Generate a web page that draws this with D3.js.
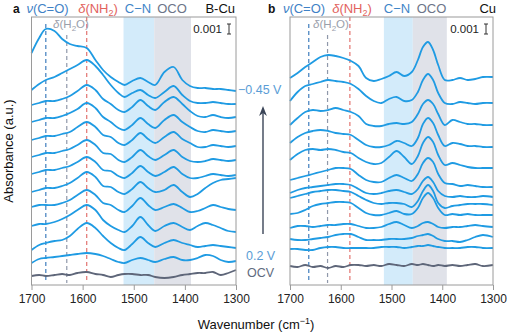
<!DOCTYPE html>
<html>
<head>
<meta charset="utf-8">
<script src="https://cdn.jsdelivr.net/npm/d3@7"></script>
<style>
  body { margin: 0; background: #fff; }
  svg { font-family: "Liberation Sans", Arial, sans-serif; }
</style>
</head>
<body>
<svg id="chart" width="510" height="335"></svg>
<script>
// wavenumber grids (cm-1) the spectra are sampled on
const waveBCu = [1700,1685,1672,1655,1640,1625,1610,1592,1575,1560,1545,1530,1518,1503,1487,1472,1458,1440,1422,1405,1390,1375,1360,1345,1330,1315,1300];
const waveCu = [1700,1685,1670,1655,1640,1625,1610,1595,1580,1565,1550,1535,1520,1505,1490,1475,1460,1448,1438,1428,1418,1408,1395,1380,1365,1350,1335,1320,1300];

// stacked spectra in 1e-4 a.u., -0.45 V (top) ... 0.2 V (bottom)
const spectraBCu = [
  [232,247,256,254,246,241,239,237,225,215,208,203,200,204,207,203,200,213,218,205,199,197,197,196,196,195,194],
  [195,201,205,208,212,216,220,225,219,210,200,192,188,192,195,190,187,193,199,190,184,182,182,183,182,181,181],
  [180,182,184,184,186,189,194,200,195,186,181,175,173,178,185,179,175,183,188,181,174,169,168,170,168,167,168],
  [163,165,167,167,169,172,176,182,177,168,163,157,155,160,167,161,157,165,170,163,158,154,153,155,154,153,154],
  [145,147,149,149,151,153,158,163,158,150,148,142,140,145,152,146,142,148,153,146,142,138,138,140,139,138,139],
  [128,130,132,132,134,136,140,145,140,132,131,125,123,128,135,129,125,130,135,128,124,123,124,126,125,124,125],
  [111,113,115,115,117,119,123,128,123,115,114,109,107,112,119,113,109,113,118,111,107,107,109,111,110,109,110],
  [93,95,97,97,99,102,107,113,108,99,98,93,91,96,103,97,93,95,100,93,88,91,97,102,105,106,107],
  [78,80,80,80,82,85,90,95,90,82,80,75,73,79,87,80,75,78,81,77,73,74,77,80,78,76,75],
  [59,61,61,63,66,70,75,80,75,65,59,55,53,59,68,60,54,59,62,58,55,59,62,60,57,54,53],
  [35,40,42,44,45,49,56,62,57,49,42,37,35,41,48,42,38,42,45,42,40,38,39,40,39,38,37],
  [22,26,27,28,29,30,31,32,31,29,26,23,22,25,27,25,23,26,28,25,25,27,30,29,25,23,24]
];
const ocvBCu = [9,10,9,10,11,10,12,13,11,10,8,10,11,11,10,10,8,7,8,10,11,12,12,13,10,12,15];

const spectraCu = [
  [207,212,218,223,228,230,229,227,224,219,207,204,206,209,213,209,213,225,238,243,235,220,205,205,207,205,206,208,208],
  [184,193,199,201,203,205,204,203,201,196,189,184,182,186,188,184,185,193,205,211,205,192,182,181,183,182,181,182,182],
  [160,167,173,175,174,175,177,175,173,169,161,159,159,161,162,161,163,171,181,185,181,171,160,165,163,161,161,160,160],
  [142,148,152,154,155,154,152,151,150,145,140,138,138,140,144,142,139,147,161,167,162,150,139,142,141,139,139,138,138],
  [125,131,135,136,135,136,135,133,132,127,123,121,122,128,134,128,121,129,142,148,143,130,120,122,120,118,117,117,117],
  [105,107,109,111,113,115,117,117,116,110,105,103,103,107,110,107,104,111,122,127,123,111,102,101,99,100,99,98,98],
  [92,95,97,98,99,100,101,101,100,96,92,91,92,94,95,93,91,96,104,108,103,94,89,88,89,88,88,89,88],
  [87,89,91,93,94,95,95,94,93,89,85,82,81,82,82,81,78,84,94,100,94,82,77,79,80,81,81,81,80],
  [71,72,75,79,81,82,83,83,82,77,72,70,70,72,74,71,71,77,87,92,87,77,70,71,70,71,70,70,70],
  [57,59,59,58,59,60,60,61,61,59,57,57,58,61,63,60,57,59,62,63,61,58,57,58,58,59,60,59,58],
  [46,45,45,46,47,48,50,51,51,48,45,45,45,46,46,46,47,49,50,51,49,46,44,44,43,45,48,50,48],
  [36,36,35,35,37,38,38,37,37,37,37,37,38,38,38,37,38,39,39,40,39,38,37,37,37,38,38,37,37]
];
const ocvCu = [19,18,20,18,19,17,19,18,20,20,19,20,19,21,20,19,21,20,21,20,19,20,19,20,19,20,21,19,20];

const xTicks = [1700, 1600, 1500, 1400, 1300];
// C-N and OCO windows (cm-1)
const bandsBCu = [[1520, 1460], [1460, 1388]];
const bandsCu = [[1515, 1458], [1458, 1391]];
// v(C=O), d(H2O), d(NH2) positions
const markersBCu = [1672, 1631, 1592];
const markersCu = [1663, 1626, 1582];

const blue = "#1f9be3";
const bandFill = ["#d3ebfa", "#e0e2e9"];
const markerColor = ["#3f7dbd", "#8f98aa", "#e27370"];
const markerTop = [24, 35, 17];

const svg = d3.select("#chart");
const y = d3.scaleLinear().domain([0, 268]).range([285, 17]);

function drawPanel(p) {
  const g = svg.append("g");
  const x = d3.scaleLinear().domain([1700, 1300]).range(p.range);

  g.selectAll("rect.band")
    .data(p.bands)
    .join("rect")
    .attr("class", "band")
    .attr("x", d => x(d[0]))
    .attr("width", d => x(d[1]) - x(d[0]))
    .attr("y", y(268))
    .attr("height", y(0) - y(268))
    .attr("fill", (d, i) => bandFill[i]);

  g.selectAll("line.marker")
    .data(p.markers)
    .join("line")
    .attr("class", "marker")
    .attr("x1", d => x(d)).attr("x2", d => x(d))
    .attr("y1", (d, i) => markerTop[i]).attr("y2", 283)
    .attr("stroke", (d, i) => markerColor[i])
    .attr("stroke-width", 1.2)
    .attr("stroke-dasharray", "4,3");

  const line = d3.line()
    .x((d, i) => x(p.waves[i]))
    .y(d => y(d))
    .curve(d3.curveCatmullRom.alpha(0.5));

  g.selectAll("path.spec")
    .data(p.spectra)
    .join("path")
    .attr("class", "spec")
    .attr("d", line)
    .attr("fill", "none")
    .attr("stroke", blue)
    .attr("stroke-width", 1.8);

  g.append("path")
    .attr("d", line(p.ocv))
    .attr("fill", "none")
    .attr("stroke", "#5e6679")
    .attr("stroke-width", 1.8);

  // frame
  g.append("rect")
    .attr("x", p.range[0]).attr("y", y(268))
    .attr("width", p.range[1] - p.range[0])
    .attr("height", y(0) - y(268))
    .attr("fill", "none")
    .attr("stroke", "#9a9a9a")
    .attr("stroke-width", 1);

  const ax = g.append("g")
    .attr("transform", `translate(0,${y(0)})`)
    .call(d3.axisBottom(x).tickValues(xTicks).tickSize(5).tickPadding(4).tickFormat(d3.format("d")));
  ax.select(".domain").remove();
  ax.selectAll(".tick line").attr("stroke", "#9a9a9a");
  ax.selectAll(".tick text")
    .attr("font-size", 12)
    .attr("fill", "#222")
    .style("font-family", "'Liberation Sans', Arial, sans-serif");

  // panel letter and sample name
  g.append("text").attr("x", p.letterX).attr("y", 13)
    .attr("font-size", 12).attr("font-weight", "bold").attr("fill", "#111").text(p.letter);
  g.append("text").attr("x", p.nameX).attr("y", 13).attr("text-anchor", "end")
    .attr("font-size", 13).attr("fill", "#111").text(p.name);

  // band and mode labels
  const t1 = g.append("text").attr("x", p.labX[0]).attr("y", 13).attr("text-anchor", "middle")
    .attr("font-size", 13).attr("fill", "#3f82c6");
  t1.append("tspan").attr("font-style", "italic").text("ν");
  t1.append("tspan").text("(C=O)");

  const t2 = g.append("text").attr("x", p.labX[1]).attr("y", 13).attr("text-anchor", "middle")
    .attr("font-size", 13).attr("fill", "#e2625d");
  t2.append("tspan").attr("font-style", "italic").text("δ");
  t2.append("tspan").text("(NH");
  t2.append("tspan").attr("font-size", 9).attr("dy", 3).text("2");
  t2.append("tspan").attr("dy", -3).text(")");

  g.append("text").attr("x", p.labX[2]).attr("y", 13).attr("text-anchor", "middle")
    .attr("font-size", 13).attr("fill", "#3f86c8").text("C−N");
  g.append("text").attr("x", p.labX[3]).attr("y", 13).attr("text-anchor", "middle")
    .attr("font-size", 13).attr("fill", "#6c7488").text("OCO");

  const t3 = g.append("text").attr("x", p.labX[4]).attr("y", 28).attr("text-anchor", "middle")
    .attr("font-size", 11.5).attr("fill", "#9aa0ab");
  t3.append("tspan").attr("font-style", "italic").text("δ");
  t3.append("tspan").text("(H");
  t3.append("tspan").attr("font-size", 8).attr("dy", 3).text("2");
  t3.append("tspan").attr("dy", -3).text("O)");

  // 0.001 scale bar
  g.append("text").attr("x", p.barX - 7).attr("y", 33).attr("text-anchor", "end")
    .attr("font-size", 11.5).attr("fill", "#222").text("0.001");
  const sb = g.append("g").attr("stroke", "#333").attr("stroke-width", 1);
  sb.append("line").attr("x1", p.barX).attr("x2", p.barX).attr("y1", 24).attr("y2", 24 + (y(0) - y(10)));
  sb.append("line").attr("x1", p.barX - 2).attr("x2", p.barX + 2).attr("y1", 24).attr("y2", 24);
  sb.append("line").attr("x1", p.barX - 2).attr("x2", p.barX + 2)
    .attr("y1", 24 + (y(0) - y(10))).attr("y2", 24 + (y(0) - y(10)));
}

drawPanel({
  range: [31.5, 236], waves: waveBCu, spectra: spectraBCu, ocv: ocvBCu,
  bands: bandsBCu, markers: markersBCu, letter: "a", letterX: 13,
  name: "B-Cu", nameX: 235, labX: [47.5, 98, 138, 172, 71], barX: 229
});
drawPanel({
  range: [290, 493], waves: waveCu, spectra: spectraCu, ocv: ocvCu,
  bands: bandsCu, markers: markersCu, letter: "b", letterX: 268,
  name: "Cu", nameX: 496, labX: [304, 352, 397, 431.5, 331], barX: 486
});

// potential labels and sweep arrow between the panels
svg.append("text").attr("x", 238).attr("y", 94).attr("font-size", 12.5).attr("fill", "#5a9dd6").text("−0.45 V");
svg.append("text").attr("x", 246).attr("y", 260).attr("font-size", 12.5).attr("fill", "#5a9dd6").text("0.2 V");
svg.append("text").attr("x", 247).attr("y", 277).attr("font-size", 12.5).attr("fill", "#5f6b80").text("OCV");

svg.append("defs").append("marker")
  .attr("id", "head").attr("viewBox", "0 0 10 10").attr("refX", 5).attr("refY", 5)
  .attr("markerWidth", 7).attr("markerHeight", 7).attr("orient", "auto")
  .append("path").attr("d", "M0,1 L10,5 L0,9 L3,5 Z").attr("fill", "#3b4558");
svg.append("line").attr("x1", 263).attr("x2", 263).attr("y1", 234).attr("y2", 111)
  .attr("stroke", "#3b4558").attr("stroke-width", 1.4).attr("marker-end", "url(#head)");

// axis titles
svg.append("text")
  .attr("transform", "translate(13,151) rotate(-90)")
  .attr("text-anchor", "middle").attr("font-size", 13).attr("fill", "#111")
  .text("Absorbance (a.u.)");
const xt = svg.append("text").attr("x", 256).attr("y", 329).attr("text-anchor", "middle")
  .attr("font-size", 13).attr("fill", "#111");
xt.append("tspan").text("Wavenumber (cm");
xt.append("tspan").attr("font-size", 9).attr("dy", -5).text("−1");
xt.append("tspan").attr("dy", 5).text(")");
</script>
</body>
</html>
